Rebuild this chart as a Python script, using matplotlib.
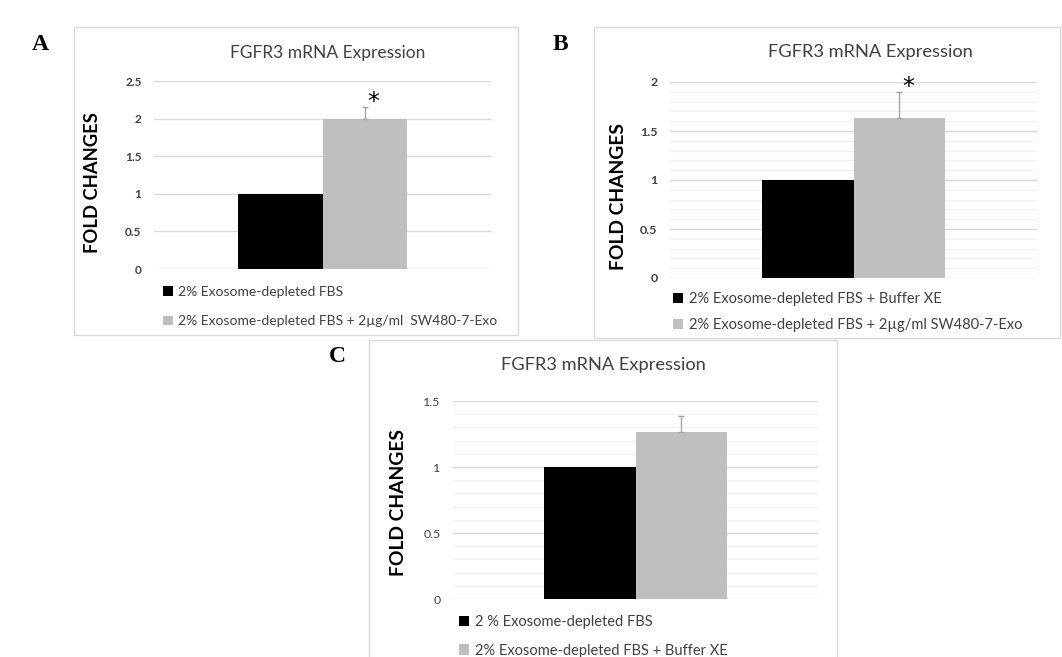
import matplotlib.pyplot as plt
from matplotlib.patches import Rectangle
from matplotlib.ticker import MultipleLocator

plt.rcParams['font.family'] = ['Lato', 'DejaVu Sans']

W, H = 1062, 657

# data
labels_a = ['2% Exosome-depleted FBS', '2% Exosome-depleted FBS + 2µg/ml  SW480-7-Exo']
values_a = [1.0, 2.0]
errors_a = [0.0, 0.16]

labels_b = ['2% Exosome-depleted FBS + Buffer XE', '2% Exosome-depleted FBS + 2µg/ml SW480-7-Exo']
values_b = [1.0, 1.63]
errors_b = [0.0, 0.27]

labels_c = ['2 % Exosome-depleted FBS', '2% Exosome-depleted FBS + Buffer XE']
values_c = [1.0, 1.265]
errors_c = [0.0, 0.125]

colors = ['#000000', '#bfbfbf']
text_col = '#404040'


def fx(x):
    return x / W


def fy(y):
    return 1 - y / H


def add_axes(fig, left, top, right, bottom):
    return fig.add_axes([fx(left), fy(bottom), (right - left) / W, (bottom - top) / H])


fig = plt.figure(figsize=(W / 100, H / 100), dpi=100)

# panel frames
for (l, t, r, b) in [(74, 27, 518, 335), (594, 27, 1060, 338), (369, 340, 837, 670)]:
    fig.patches.append(Rectangle((fx(l), fy(b)), (r - l) / W, (b - t) / H,
                                 transform=fig.transFigure, fill=False,
                                 edgecolor='#d9d9d9', linewidth=1))

panels = [
    # letter, letter pos, axes box, ymax, minor, labels, values, errors, star,
    # title pos, ylabel pos, legend pos, spacing, bold ticks, text scale
    ('A', (40, 45), (154, 81, 491, 269), 2.5, False, labels_a, values_a, errors_a, True,
     (328, 53), (93, 183), (163, 286), 1.25, True, 1.0),
    ('B', (560, 45), (670, 82, 1037, 278), 2.0, True, labels_b, values_b, errors_b, True,
     (870, 52), (619, 197), (673, 292), 0.85, True, 1.05),
    ('C', (337, 357), (453, 401, 818, 599), 1.5, True, labels_c, values_c, errors_c, False,
     (603, 365), (398, 503), (459, 615), 1.0, False, 1.05),
]

for (letter, lpos, box, ymax, minor, labels, values, errors, star,
     tpos, ypos, legpos, spacing, boldticks, sc) in panels:
    ax = add_axes(fig, *box)
    ax.set_facecolor('none')
    bars = []
    for i, (lab, v, e) in enumerate(zip(labels, values, errors)):
        bc = ax.bar(1.5 + i, v, width=1.0, color=colors[i], label=lab, zorder=2)
        bars.append(bc)
        if e > 0:
            ax.errorbar(1.5 + i, v, yerr=[[0], [e]], fmt='none', ecolor='#a6a6a6',
                        elinewidth=1, capsize=2.5, capthick=1, zorder=3)
            if star:
                ax.annotate('*', (1.5 + i, v + e), xytext=(6.5, -5), textcoords='offset points',
                            ha='center', va='bottom', fontsize=17, color='black',
                            family='DejaVu Sans')
    ax.set_xlim(0, 4)
    ax.set_ylim(0, ymax)
    ax.yaxis.set_major_locator(MultipleLocator(0.5))
    if minor:
        ax.yaxis.set_minor_locator(MultipleLocator(0.1))
        ax.grid(True, which='minor', axis='y', color='#f0f0f0', linewidth=0.8, zorder=0)
    ax.grid(True, which='major', axis='y', color='#d9d9d9', linewidth=1, zorder=0)
    ax.set_axisbelow(True)
    for s in ax.spines.values():
        s.set_visible(False)
    ax.set_xticks([])
    ax.tick_params(axis='y', which='both', length=0, pad=9, labelsize=8.5 * sc,
                   labelcolor=text_col)
    ax.set_yticklabels([f'{t:g}' for t in ax.get_yticks()],
                       fontweight='bold' if boldticks else 'normal')
    ax.set_ylim(0, ymax)

    fig.text(fx(lpos[0]), fy(lpos[1]), letter, family='Liberation Serif', fontweight='bold',
             fontsize=17, ha='center', va='center')
    fig.text(fx(tpos[0]), fy(tpos[1]), 'FGFR3 mRNA Expression', fontsize=12.5 * sc,
             color=text_col, ha='center', va='center')
    fig.text(fx(ypos[0]), fy(ypos[1]), 'FOLD CHANGES', fontsize=13.2 * sc, fontweight='bold',
             rotation=90, ha='center', va='center', color='black')
    ax.legend(handles=bars, loc='upper left', bbox_to_anchor=(fx(legpos[0]), fy(legpos[1])),
              bbox_transform=fig.transFigure, frameon=False, borderaxespad=0, borderpad=0,
              fontsize=10 * sc, labelcolor=text_col, handlelength=0.7, handleheight=0.7,
              handletextpad=0.4, labelspacing=spacing)

fig.savefig('out.png', dpi=100)
